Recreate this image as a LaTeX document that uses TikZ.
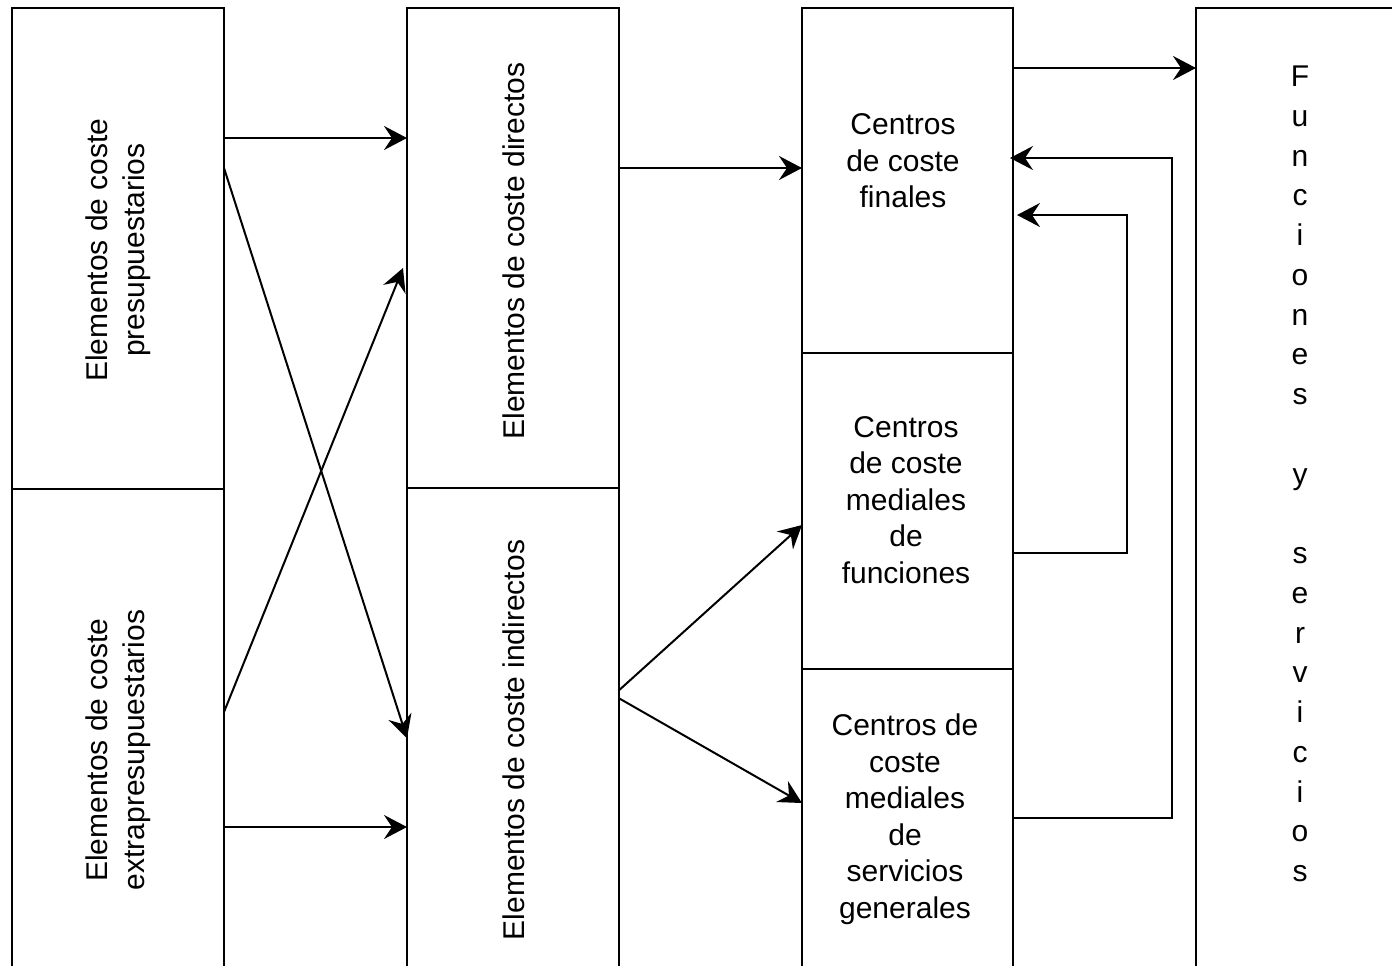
\documentclass[tikz,border=0pt]{standalone}
\usepackage{fontspec}
\setmainfont{Liberation Sans}
\usetikzlibrary{arrows.meta,calc}
\begin{document}
\begin{tikzpicture}[x=0.5pt,y=-0.5pt,
  box/.style={draw,line width=1pt,inner sep=0pt,outer sep=0pt},
  lbl/.style={font=\fontsize{15}{18.25}\selectfont,align=center,inner sep=0pt},
  arr/.style={line width=1pt,-{Stealth[length=11.5pt,width=12pt,inset=4pt]}}]
\useasboundingbox (0,0) rectangle (1392,965);
\clip (0,0) rectangle (1392,965);
% boxes
\node[box,minimum width=106pt,minimum height=240.5pt] (A1) at (118,248.5) {};
\node[box,minimum width=106pt,minimum height=261pt] (A2) at (118,750) {};
\node[box,minimum width=106pt,minimum height=240pt] (B1) at (513,248) {};
\node[box,minimum width=106pt,minimum height=261.5pt] (B2) at (513,749.75) {};
\node[box,minimum width=105.5pt,minimum height=172.5pt] (C1) at (907.5,180.5) {};
\node[box,minimum width=105.5pt,minimum height=158pt] (C2) at (907.5,511) {};
\node[box,minimum width=105.5pt,minimum height=171pt] (C3) at (907.5,840) {};
\node[box,minimum width=127pt,minimum height=501.5pt] (D) at (1323,509.5) {};
% texts
\node[lbl,rotate=90] (tA1) at (118,250) {Elementos de coste\\presupuestarios};
\node[lbl,rotate=90] (tA2) at (118,750) {Elementos de coste\\extrapresupuestarios};
\node[lbl,rotate=90] (tB1) at (514,251) {Elementos de coste directos};
\node[lbl,rotate=90] (tB2) at (514,740) {Elementos de coste indirectos};
\node[lbl] (tC1) at (903,161) {Centros\\de coste\\finales};
\node[lbl] (tC2) at (906,500) {Centros\\de coste\\mediales\\de\\funciones};
\node[lbl] (tC3) at (905,819) {Centros de\\coste\\mediales\\de\\servicios\\generales};
\node[lbl,font=\fontsize{15}{19.875}\selectfont] (tD) at (1300,474)
  {F\\u\\n\\c\\i\\o\\n\\e\\s\\\mbox{}\\y\\\mbox{}\\s\\e\\r\\v\\i\\c\\i\\o\\s};
% connector points
\coordinate (s1) at ($(A1.north east)+(0,130)$);
\coordinate (s2) at ($(A1.north east)+(0,160)$);
\coordinate (e2) at ($(B2.north west)+(0,250)$);
\coordinate (s3) at ($(A2.north east)+(0,223)$);
\coordinate (e3) at ($(B1.north west)+(-4,260)$);
\coordinate (s4) at ($(A2.north east)+(0,338)$);
\coordinate (s5) at ($(B1.north east)+(0,160)$);
\coordinate (s6) at ($(B2.north east)+(0,202)$);
\coordinate (e6) at ($(C2.north west)+(0,172)$);
\coordinate (s7) at ($(B2.north east)+(0,210)$);
\coordinate (e7) at ($(C3.north west)+(0,134)$);
\coordinate (s8) at ($(C1.north east)+(0,60)$);
\coordinate (s9) at ($(C3.north east)+(0,149)$);
\coordinate (e9) at ($(C1.north east)+(-3,150)$);
\coordinate (k9) at (1172,0);
\coordinate (s10) at ($(C2.north east)+(0,200)$);
\coordinate (e10) at ($(C1.north east)+(4,207)$);
\coordinate (k10) at (1127,0);
% connectors
\draw[arr] (s1) -- (s1 -| B1.west);
\draw[arr] (s2) -- (e2);
\draw[arr] (s3) -- (e3);
\draw[arr] (s4) -- (s4 -| B2.west);
\draw[arr] (s5) -- (s5 -| C1.west);
\draw[arr] (s6) -- (e6);
\draw[arr] (s7) -- (e7);
\draw[arr] (s8) -- (s8 -| D.west);
\draw[arr] (s9) -- (s9 -| k9) -- (e9 -| k9) -- (e9);
\draw[arr] (s10) -- (s10 -| k10) -- (e10 -| k10) -- (e10);
\end{tikzpicture}
\end{document}
